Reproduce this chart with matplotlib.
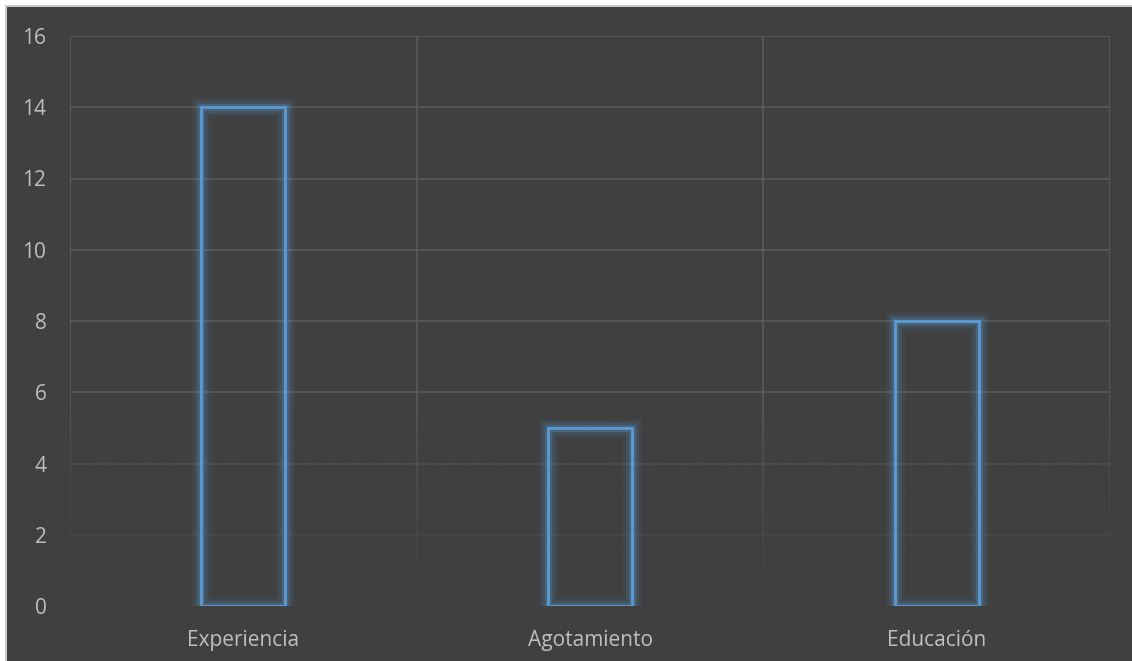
import numpy as np
import matplotlib
matplotlib.use('Agg')
import matplotlib.pyplot as plt
import matplotlib.patheffects as pe
from matplotlib.patches import Rectangle

# Datos
categorias = ['Experiencia', 'Agotamiento', 'Educación']
valores = [14, 5, 8]
yticks = [0, 2, 4, 6, 8, 10, 12, 14, 16]

fondo = '#404040'
rejilla = '#5a5a5a'
azul = '#5B9BD5'
texto = '#BFBFBF'

plt.rcParams['font.family'] = ['Open Sans', 'DejaVu Sans']

fig = plt.figure(figsize=(11.32, 6.61), dpi=100)
fig.patch.set_facecolor('white')
# marco oscuro con borde claro (arriba e izquierda)
fig.patches.append(Rectangle((6 / 1132, -0.01), 1.02, 1 - 6 / 661 + 0.01,
                             transform=fig.transFigure, facecolor=fondo,
                             edgecolor='#C8C8C8', linewidth=1.5, zorder=-10))

ax = fig.add_axes([70 / 1132, 1 - 606 / 661, 1040 / 1132, 570 / 661])
ax.set_facecolor(fondo)
ax.patch.set_alpha(0)

x = np.arange(len(categorias))
ax.set_xlim(-0.5, len(categorias) - 0.5)
ax.set_ylim(0, 16)
ax.set_yticks(yticks)
ax.set_xticks(x)
ax.set_xticklabels(categorias)

# rejilla horizontal y vertical (entre categorias)
for yv in yticks[1:]:
    ax.axhline(yv, color=rejilla, linewidth=1.2, zorder=1)
for xv in np.arange(-0.5, len(categorias), 1.0):
    ax.axvline(xv, color=rejilla, linewidth=1.2, zorder=1)

# degradado que desvanece la rejilla hacia abajo
alpha = np.clip((5.6 - np.linspace(16, 0, 200)) / 5.6, 0, 1) ** 0.7 * 0.97
grad = np.zeros((200, 1, 4))
grad[..., :3] = matplotlib.colors.to_rgb(fondo)
grad[..., 3] = alpha[:, None]
ax.imshow(grad, extent=[-0.5, len(categorias) - 0.5, 0, 16], aspect='auto',
          zorder=2, interpolation='bilinear')

barras = ax.bar(x, valores, width=0.242, facecolor='none', edgecolor=azul,
                linewidth=2, zorder=3)
for b in barras:
    b.set_path_effects([
        pe.Stroke(linewidth=14, foreground=azul, alpha=0.07),
        pe.Stroke(linewidth=9, foreground=azul, alpha=0.15),
        pe.Stroke(linewidth=5, foreground=azul, alpha=0.25),
        pe.Normal(),
    ])

for s in ax.spines.values():
    s.set_visible(False)
ax.tick_params(axis='both', length=0, labelsize=15, colors=texto)
ax.tick_params(axis='y', pad=17)
ax.tick_params(axis='x', pad=17)

fig.savefig('out.png', dpi=100, facecolor=fig.get_facecolor())
